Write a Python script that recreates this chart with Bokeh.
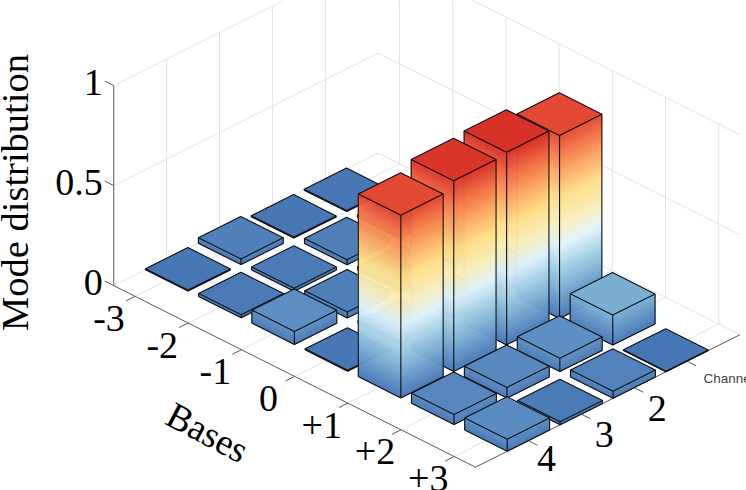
import math
from bokeh.plotting import figure
from bokeh.models import Range1d
from bokeh.core.properties import value
from bokeh.embed import file_html
from bokeh.resources import INLINE

bases = [-3, -2, -1, 0, 1, 2, 3]
base_labels = ["-3", "-2", "-1", "0", "+1", "+2", "+3"]
channels = [1, 2, 3, 4]
channel_labels = ["", "2", "3", "4"]
channel_nudge = [0, 1, 1, -4]
z_ticks = [0, 0.5, 1]
z_labels = ["0", "0.5", "1"]

channel_1 = [0.005, 0.010, 0.010, 0.010, 0.915, 0.150, 0.003]
channel_2 = [0.005, 0.025, 0.020, 0.010, 0.963, 0.067, 0.035]
channel_3 = [0.028, 0.015, 0.030, 0.010, 0.953, 0.053, 0.015]
channel_4 = [0.005, 0.015, 0.065, 0.005, 0.913, 0.050, 0.060]
values = {1: channel_1, 2: channel_2, 3: channel_3, 4: channel_4}

X_MIN, X_MAX, C_MIN, C_MAX, Z_MAX = -3.4, 3.4, 0.0, 5.0, 1.0
BAR_HALF = 0.4
SERIF = value("Liberation Serif")

FRONT = (475.0, 466.7)
UX = (53.2, 26.7)
UC = (-52.9, 26.5)
UZ = 200.0


def project(x, c, z=0.0):
    dx, dc = x - X_MAX, c - C_MAX
    return (FRONT[0] + dx * UX[0] + dc * UC[0], FRONT[1] + dx * UX[1] + dc * UC[1] - z * UZ)


STOPS = [(0.00, "#4575b4"), (0.12, "#6fa3ce"), (0.24, "#a0cde3"), (0.36, "#dff2fc"),
         (0.46, "#f7efc0"), (0.60, "#fedf88"), (0.72, "#fca964"), (0.84, "#f26e45"), (0.963, "#d73027")]


def rgb(h):
    return tuple(int(h[i:i + 2], 16) for i in (1, 3, 5))


def cmap(z):
    for (z0, c0), (z1, c1) in zip(STOPS, STOPS[1:]):
        if z <= z1:
            t = max(0.0, (z - z0) / (z1 - z0))
            a, b = rgb(c0), rgb(c1)
            return "#%02x%02x%02x" % tuple(round(a[i] + t * (b[i] - a[i])) for i in range(3))
    return STOPS[-1][1]


p = figure(width=746, height=490, output_backend="svg", toolbar_location=None,
           x_range=Range1d(0, 746), y_range=Range1d(490, 0), min_border=0,
           background_fill_color="white")
p.outline_line_color = None
p.xaxis.visible = False
p.yaxis.visible = False
p.xgrid.visible = False
p.ygrid.visible = False


def seg(points, color, width=1.0):
    pts = [project(*q) for q in points]
    p.line([q[0] for q in pts], [q[1] for q in pts], line_color=color, line_width=width)


GRID, AXIS = "#e3e3e3", "#5a5a5a"
for z in z_ticks:
    seg([(X_MIN, C_MAX, z), (X_MIN, C_MIN, z), (X_MAX, C_MIN, z)], GRID)
for c in channels:
    seg([(X_MIN, c, 0), (X_MAX, c, 0)], GRID)
    seg([(X_MIN, c, 0), (X_MIN, c, Z_MAX)], GRID)
for x in bases:
    seg([(x, C_MIN, 0), (x, C_MAX, 0)], GRID)
    seg([(x, C_MIN, 0), (x, C_MIN, Z_MAX)], GRID)

seg([(X_MIN, C_MAX, 0), (X_MIN, C_MAX, Z_MAX)], AXIS)
seg([(X_MIN, C_MAX, 0), (X_MAX, C_MAX, 0), (X_MAX, C_MIN, 0)], AXIS)
for z in z_ticks:
    seg([(X_MIN, C_MAX, z), (X_MIN - 0.17, C_MAX, z)], AXIS)
for x in bases:
    seg([(x, C_MAX, 0), (x, C_MAX + 0.17, 0)], AXIS)
for c in channels:
    seg([(X_MAX, c, 0), (X_MAX + 0.17, c, 0)], AXIS)

cells = sorted(((x, c, values[c][i]) for i, x in enumerate(bases) for c in channels),
               key=lambda t: t[0] + t[1])
EDGE = "#111111"
for x, c, h in cells:
    x0, x1, c0, c1 = x - BAR_HALF, x + BAR_HALF, c - BAR_HALF, c + BAR_HALF
    n = max(1, math.ceil(h / 0.008))
    xs, ys, cols = [], [], []
    for k in range(n):
        za, zb = h * k / n, h * (k + 1) / n
        col = cmap((za + zb) / 2)
        for a, b in (((x0, c1), (x1, c1)), ((x1, c1), (x1, c0))):
            q = [project(a[0], a[1], za), project(b[0], b[1], za), project(b[0], b[1], zb), project(a[0], a[1], zb)]
            xs.append([t[0] for t in q])
            ys.append([t[1] for t in q])
            cols.append(col)
    p.patches(xs, ys, fill_color=cols, line_color=cols, line_width=0.6)
    top = [project(x0, c0, h), project(x1, c0, h), project(x1, c1, h), project(x0, c1, h)]
    p.patch([t[0] for t in top], [t[1] for t in top], fill_color=cmap(h), line_color=None)
    outlines = [
        [(x0, c1, 0), (x1, c1, 0), (x1, c0, 0), (x1, c0, h), (x0, c0, h), (x0, c1, h), (x0, c1, 0)],
        [(x0, c1, h), (x1, c1, h), (x1, c0, h)],
        [(x1, c1, 0), (x1, c1, h)],
    ]
    for o in outlines:
        seg(o, EDGE, 1.1)


def labels(px, py, text, size, align="center", angle=0.0, font=SERIF, color="black"):
    p.text(px, py, text=text, text_font=font, text_font_size=size, text_align=align,
           text_baseline="middle", angle=angle, text_color=color)


zpts = [project(X_MIN, C_MAX, z) for z in z_ticks]
labels([q[0] - 11 for q in zpts], [q[1] - 3 for q in zpts], z_labels, "38px", "right")
bpts = [project(x, C_MAX, 0) for x in bases]
labels([q[0] - 26 for q in bpts], [q[1] + 22 for q in bpts], base_labels, "38px")
cpts = [project(X_MAX, c, 0) for c in channels]
labels([q[0] + 22 + d for q, d in zip(cpts, channel_nudge)],
       [q[1] + 20 + d * 0.6 for q, d in zip(cpts, channel_nudge)], channel_labels, "38px")
labels([14], [192], ["Mode distribution"], "38.5px", angle=math.pi / 2)
labels([207], [432], ["Bases"], "37px", angle=-0.49)
labels([703], [378], ["Channel"], "13.5px", "left", font=value("Liberation Sans"), color="#444444")

open("out.html", "w").write(file_html(p, INLINE))
